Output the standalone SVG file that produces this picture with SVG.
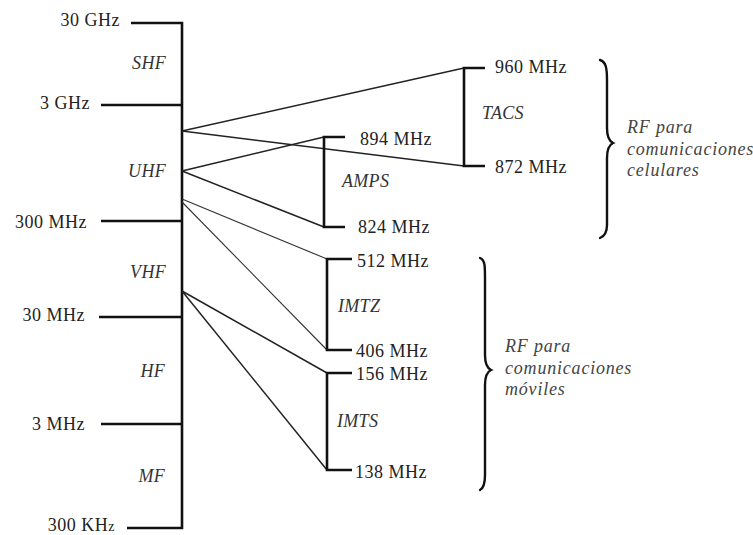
<svg xmlns="http://www.w3.org/2000/svg" width="753" height="535" viewBox="0 0 753 535">
<style>
.lbl{font-family:"Liberation Serif","Times New Roman",serif;font-size:18px;fill:#222;letter-spacing:0.5px}
.it{font-family:"Liberation Serif","Times New Roman",serif;font-size:18px;font-style:italic;fill:#333;letter-spacing:0.3px}
.rf{font-family:"Liberation Serif","Times New Roman",serif;font-size:18px;font-style:italic;fill:#444;letter-spacing:0.8px}
.thick{stroke:#111;stroke-width:2.6;fill:none}
.fan{stroke:#222;stroke-width:1.5;fill:none}
.thin{stroke:#333;stroke-width:1.1;fill:none}
.brace{stroke:#111;stroke-width:2.4;fill:none;stroke-linecap:round}
</style>
<rect width="753" height="535" fill="#fff"/>
<g id="axis">
<path class="thick" d="M131,23 H182 V528 H127"/>
<line class="thick" x1="101" y1="105" x2="182" y2="105"/>
<line class="thick" x1="101" y1="221" x2="182" y2="221"/>
<line class="thick" x1="99" y1="317" x2="182" y2="317"/>
<line class="thick" x1="101" y1="424" x2="182" y2="424"/>
<g class="lbl" text-anchor="end">
<text x="120" y="26">30 GHz</text>
<text x="90" y="109">3 GHz</text>
<text x="87" y="228">300 MHz</text>
<text x="85" y="321">30 MHz</text>
<text x="85" y="430">3 MHz</text>
<text x="115" y="531">300 KH<tspan font-size="14">z</tspan></text>
</g>
<g class="it" text-anchor="end">
<text x="166" y="69">SHF</text>
<text x="166" y="177">UHF</text>
<text x="166" y="278">VHF</text>
<text x="165" y="377">HF</text>
<text x="165" y="482">MF</text>
</g>
</g>
<g id="connectors">
<line class="fan" x1="182" y1="131" x2="464" y2="68"/>
<line class="fan" x1="182" y1="131" x2="464" y2="166"/>
<line class="fan" x1="182" y1="171" x2="324" y2="137"/>
<line class="fan" x1="182" y1="171" x2="324" y2="227"/>
<line class="thin" x1="182" y1="199" x2="327" y2="259"/>
<line class="thin" x1="182" y1="202" x2="327" y2="350"/>
<line class="fan" x1="182" y1="291" x2="327" y2="373"/>
<line class="fan" x1="182" y1="291" x2="327" y2="470"/>
</g>
<g id="tacs">
<path class="thick" d="M485,68 H464 V166 H485"/>
<text class="lbl" x="495" y="73">960 MHz</text>
<text class="lbl" x="495" y="173">872 MHz</text>
<text class="it" x="482" y="119">TACS</text>
</g>
<g id="amps">
<path class="thick" d="M345,137 H324 V227 H345"/>
<text class="lbl" x="360" y="145">894 MHz</text>
<text class="lbl" x="358" y="233">824 MHz</text>
<text class="it" x="342" y="187">AMPS</text>
</g>
<g id="imtz">
<path class="thick" d="M352,259 H327 V350 H352"/>
<text class="lbl" x="357" y="267">512 MHz</text>
<text class="lbl" x="356" y="357">406 MHz</text>
<text class="it" x="338" y="312">IMTZ</text>
</g>
<g id="imts">
<path class="thick" d="M352,373 H327 V470 H352"/>
<text class="lbl" x="356" y="380">156 MHz</text>
<text class="lbl" x="355" y="478">138 MHz</text>
<text class="it" x="337" y="427">IMTS</text>
</g>
<g id="celulares">
<path class="brace" d="M600,60 C606,62 607,68 607,80 L607,128 C607,137 609,141 613,143 C609,145 607,149 607,158 L607,225 C607,232 605,236 600,238"/>
<text class="rf" x="627" y="133">RF para</text>
<text class="rf" x="627" y="155">comunicaciones</text>
<text class="rf" x="627" y="176">celulares</text>
</g>
<g id="moviles">
<path class="brace" d="M480,258 C485,260 485,266 485,278 L485,355 C485,364 487,368 491,370 C487,372 485,376 485,385 L485,475 C485,483 484,488 480,490"/>
<text class="rf" x="505" y="352">RF para</text>
<text class="rf" x="505" y="374">comunicaciones</text>
<text class="rf" x="505" y="395">móviles</text>
</g>
</svg>
